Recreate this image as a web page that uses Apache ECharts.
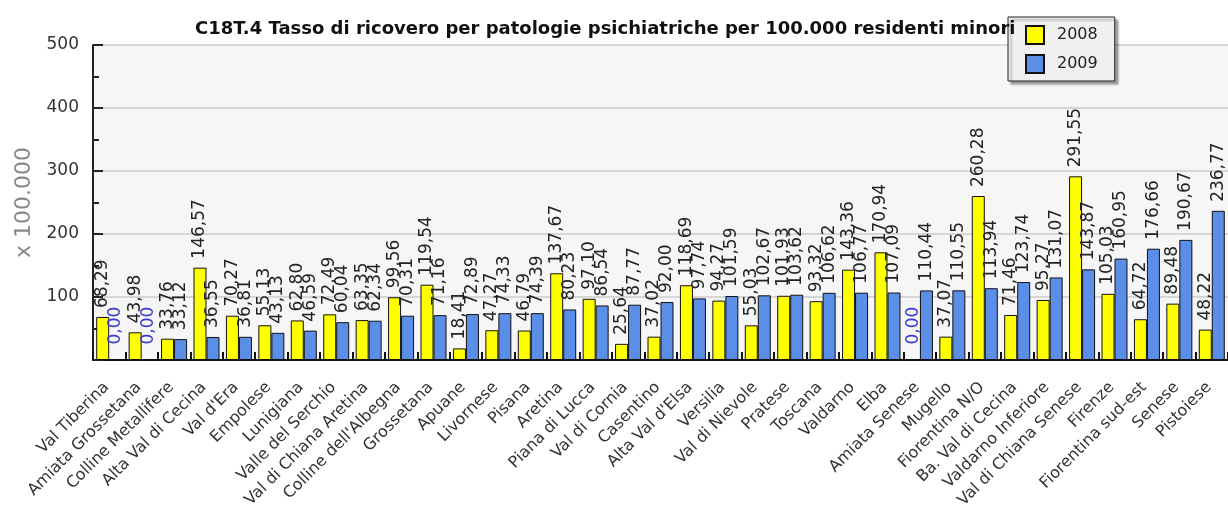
<!DOCTYPE html>
<html>
<head>
<meta charset="utf-8">
<script src="https://cdn.jsdelivr.net/npm/echarts@6/dist/echarts.min.js"></script>
<style>html,body{margin:0;padding:0;background:#fff}#c{width:1228px;height:518px}</style>
</head>
<body>
<div id="c"></div>
<script>
const categories = ["Val Tiberina","Amiata Grossetana","Colline Metallifere","Alta Val di Cecina","Val d'Era","Empolese","Lunigiana","Valle del Serchio","Val di Chiana Aretina","Colline dell'Albegna","Grossetana","Apuane","Livornese","Pisana","Aretina","Piana di Lucca","Val di Cornia","Casentino","Alta Val d'Elsa","Versilia","Val di Nievole","Pratese","Toscana","Valdarno","Elba","Amiata Senese","Mugello","Fiorentina N/O","Ba. Val di Cecina","Valdarno Inferiore","Val di Chiana Senese","Firenze","Fiorentina sud-est","Senese","Pistoiese"];
const values2008 = [68.29,43.98,33.76,146.57,70.27,55.13,62.80,72.49,63.35,99.56,119.54,18.41,47.27,46.79,137.67,97.10,25.64,37.02,118.69,94.27,55.03,101.93,93.32,143.36,170.94,0.00,37.07,260.28,71.46,95.27,291.55,105.03,64.72,89.48,48.22];
const values2009 = [0.00,0.00,33.12,36.55,36.81,43.13,46.59,60.04,62.34,70.31,71.16,72.89,74.33,74.39,80.23,86.54,87.77,92.00,97.74,101.59,102.67,103.62,106.62,106.77,107.09,110.44,110.55,113.94,123.74,131.07,143.87,160.95,176.66,190.67,236.77];
const seriesNames = ["2008","2009"];
const yTickLabels = [100,200,300,400,500];
const titleText = "C18T.4 Tasso di ricovero per patologie psichiatriche per 100.000 residenti minori";
const yAxisName = "x 100.000";

const FONT = "DejaVu Sans";
function fmt(v){ return v.toFixed(2).replace('.', ','); }
function items(arr){
  return arr.map(v => v === 0
    ? {value: v, label: {color: '#3a3acc', distance: 15}}
    : {value: v});
}
const labelCfg = {
  show: true, position: 'top', rotate: 90, align: 'left', verticalAlign: 'middle',
  distance: 9, fontFamily: FONT, fontSize: 17, color: '#222',
  formatter: p => fmt(p.value)
};

const chart = echarts.init(document.getElementById('c'), null, {renderer: 'canvas'});
chart.setOption({
  animation: false,
  backgroundColor: '#ffffff',
  title: {
    text: titleText, left: 190, top: 15,
    textStyle: {fontFamily: FONT, fontSize: 18, fontWeight: 'bold', color: '#111'}
  },
  legend: {
    data: seriesNames, orient: 'vertical', left: 1008, top: 17,
    padding: [8, 17, 7, 17], itemGap: 9, itemWidth: 18, itemHeight: 18,
    backgroundColor: '#f0f0f0', borderColor: '#222', borderWidth: 1,
    shadowColor: 'rgba(0,0,0,0.35)', shadowOffsetX: 3, shadowOffsetY: 3, shadowBlur: 2,
    icon: 'rect',
    textStyle: {fontFamily: FONT, fontSize: 16, color: '#222', padding: [0,0,0,8]}
  },
  grid: {
    left: 93, top: 45, width: 1141, height: 315,
    show: true, backgroundColor: '#f6f6f6', borderWidth: 0
  },
  xAxis: {
    type: 'category', data: categories,
    axisLine: {lineStyle: {color: '#111', width: 2}},
    axisTick: {show: true, inside: true, length: 8, interval: 0, lineStyle: {color: '#111', width: 2}},
    axisLabel: {interval: 0, rotate: 45, margin: 22, padding: [0, 4, 0, 0],
      fontFamily: FONT, fontSize: 16, color: '#333'}
  },
  yAxis: {
    type: 'value', min: 0, max: 500, interval: 100,
    name: yAxisName, nameLocation: 'middle', nameGap: 58, nameRotate: 90,
    nameTextStyle: {fontFamily: FONT, fontSize: 22, color: '#888'},
    axisLine: {show: true, lineStyle: {color: '#222', width: 2}},
    axisTick: {show: true, inside: true, length: 10, lineStyle: {color: '#222', width: 2}},
    minorTick: {show: true, splitNumber: 2, length: 6, lineStyle: {color: '#222', width: 2}},
    axisLabel: {margin: 14, fontFamily: FONT, fontSize: 17, color: '#333',
      formatter: v => yTickLabels.includes(v) ? String(v) : ''},
    splitLine: {show: true, lineStyle: {color: '#d6d6d6', width: 2}}
  },
  series: [
    {name: seriesNames[0], type: 'bar', data: items(values2008), barWidth: 13, barGap: '0%',
     itemStyle: {color: '#ffff00', borderColor: '#111', borderWidth: 1}, label: labelCfg},
    {name: seriesNames[1], type: 'bar', data: items(values2009), barWidth: 13, barGap: '0%',
     itemStyle: {color: '#5b8ee6', borderColor: '#111', borderWidth: 1}, label: labelCfg}
  ]
});
</script>
</body>
</html>
